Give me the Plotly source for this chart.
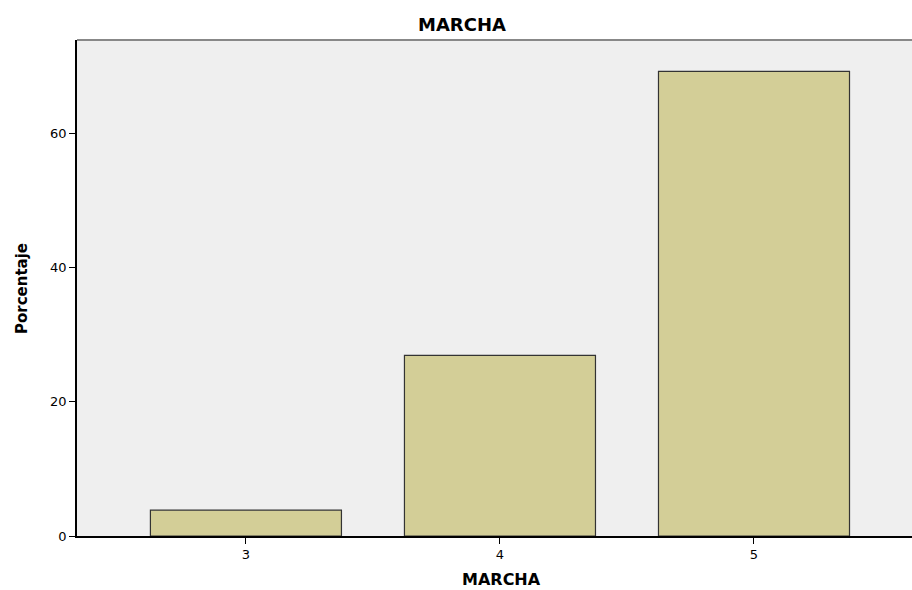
import plotly.graph_objects as go

categories = [3, 4, 5]
percentages = [3.846, 26.923, 69.231]
y_ticks = [0, 20, 40, 60]

fig = go.Figure()
fig.add_trace(go.Bar(
    x=categories, y=percentages, width=0.752,
    marker=dict(color="#d3ce97", line=dict(color="#333333", width=1.2)),
    hoverinfo="x+y",
))

font_family = "DejaVu Sans, Liberation Sans, Arial, sans-serif"
fig.update_layout(
    width=912, height=590,
    margin=dict(l=77, r=0, t=40, b=54),
    paper_bgcolor="white", plot_bgcolor="#efefef",
    showlegend=False,
    font=dict(family=font_family, color="black", size=13),
    title=dict(text="<b>MARCHA</b>", x=(462 - 77) / 835, xref="paper", xanchor="center",
               y=1 - 25 / 590, yanchor="middle", font=dict(size=18, family=font_family)),
    xaxis=dict(range=[2.335, 5.622], tickvals=categories, ticktext=[str(c) for c in categories],
               showgrid=False, zeroline=False, showline=True, linecolor="black", linewidth=1.5,
               ticks="outside", ticklen=6, tickwidth=1.2, tickcolor="black",
               tickfont=dict(size=13), fixedrange=True),
    yaxis=dict(range=[0, 73.9], tickvals=y_ticks, showgrid=False, zeroline=False,
               showline=True, linecolor="black", linewidth=1.5,
               ticks="outside", ticklen=6, tickwidth=1.2, tickcolor="black",
               tickfont=dict(size=13), fixedrange=True),
)

fig.add_annotation(text="<b>MARCHA</b>", xref="paper", yref="paper",
                   x=(501 - 77) / 835, y=-(579 - 536) / 496, xanchor="center", yanchor="middle",
                   showarrow=False, font=dict(size=16, family=font_family))
fig.add_annotation(text="<b>Porcentaje</b>", xref="paper", yref="paper",
                   x=-(77 - 22) / 835, y=(536 - 288) / 496, xanchor="center", yanchor="middle",
                   textangle=-90, showarrow=False, font=dict(size=15, family=font_family))
fig.add_shape(type="line", xref="paper", yref="paper", x0=0, x1=1, y0=1, y1=1,
              line=dict(color="#888888", width=2))

fig.write_html("out.html", config={"displayModeBar": False},
               post_script="document.body.style.margin='0';")
